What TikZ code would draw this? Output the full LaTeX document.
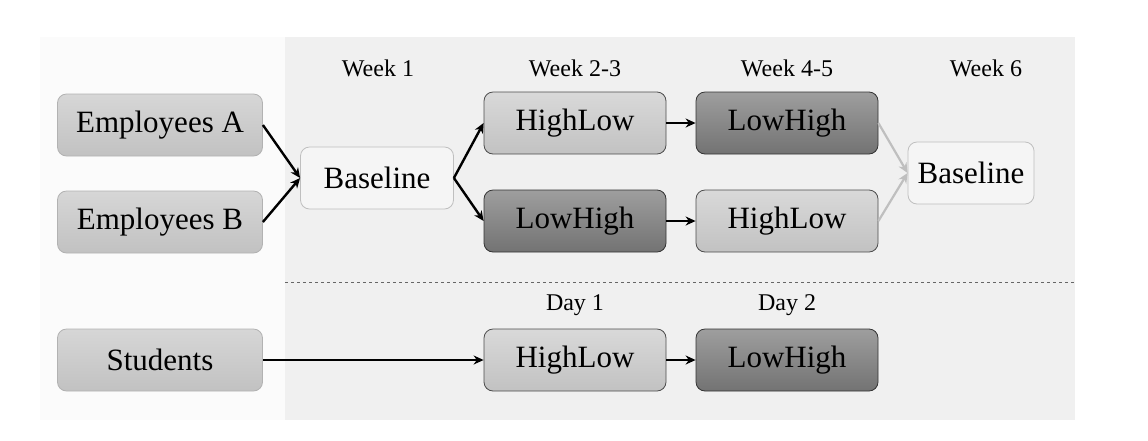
\documentclass[tikz,border=0pt]{standalone}
\usepackage{fontspec}
\setmainfont{Liberation Serif}
\usetikzlibrary{arrows.meta}
\definecolor{panel}{HTML}{F0F0F0}
\definecolor{leftbg}{HTML}{FBFBFB}
\definecolor{basefill}{HTML}{F5F5F5}
\tikzset{
  box/.style={rounded corners=9pt, minimum width=182pt, minimum height=62pt, font=\fontsize{31}{34}\selectfont, line width=0.8pt},
  lightbox/.style={box, draw=black!70, top color=black!15, bottom color=black!24},
  darkbox/.style={box, draw=black!80, top color=black!38, bottom color=black!55},
  srcbox/.style={box, minimum width=205pt, draw=black!30, top color=black!16, bottom color=black!24},
  basebox/.style={box, draw=black!25, fill=basefill},
  lbl/.style={font=\fontsize{24}{27}\selectfont},
  arr/.style={-{Stealth[length=10pt,width=9pt]}, line width=2.4pt, black},
  garr/.style={-{Stealth[length=10pt,width=9pt]}, line width=2.2pt, black!25},
}
\begin{document}
\begin{tikzpicture}[x=1pt,y=-1pt]
\useasboundingbox (0,0) rectangle (1148,440);
\fill[white] (0,0) rectangle (1148,440);
\fill[leftbg] (40,37) rectangle (285,420);
\fill[panel] (285,37) rectangle (1075,420);
\draw[dashed, black!60, line width=0.8pt] (285,282) -- (1075,282);

\node[lbl] (w1) at (378,68) {Week 1};
\node[lbl] (w23) at (575,68) {Week 2-3};
\node[lbl] (w45) at (787,68) {Week 4-5};
\node[lbl] (w6) at (986,68) {Week 6};
\node[lbl] (d1) at (575,305) {Day 1};
\node[lbl] (d2) at (787,305) {Day 2};

\node[srcbox] (ea) at (160,125) {Employees A};
\node[srcbox] (eb) at (160,222) {Employees B};
\node[srcbox] (st) at (160,360) {Students};
\node[basebox, minimum width=153pt] (b1) at (377,178) {Baseline};
\node[lightbox] (hl1) at (575,123) {HighLow};
\node[darkbox] (lh1) at (787,123) {LowHigh};
\node[darkbox] (lh2) at (575,221) {LowHigh};
\node[lightbox] (hl2) at (787,221) {HighLow};
\node[basebox, minimum width=126pt] (b6) at (971,173) {Baseline};
\node[lightbox] (hl3) at (575,360) {HighLow};
\node[darkbox] (lh3) at (787,360) {LowHigh};

\draw[arr] (ea.east) -- (b1.west);
\draw[arr] (eb.east) -- (b1.west);
\draw[arr] (b1.east) -- (hl1.west);
\draw[arr] (b1.east) -- (lh2.west);
\draw[arr] (hl1) -- (lh1);
\draw[arr] (lh2) -- (hl2);
\draw[garr] (lh1.east) -- (b6.west);
\draw[garr] (hl2.east) -- (b6.west);
\draw[arr] (st) -- (hl3);
\draw[arr] (hl3) -- (lh3);
\end{tikzpicture}
\end{document}
